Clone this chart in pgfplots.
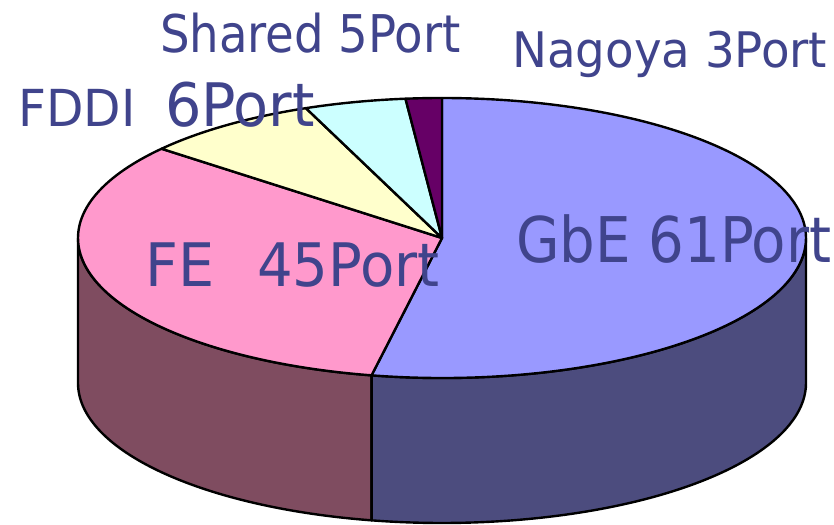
\documentclass[border=0pt]{standalone}
\usepackage{fontspec}
\setmainfont[FakeStretch=1.06]{DejaVu Sans Condensed}
\usepackage{pgfplots}
\pgfplotsset{compat=1.18}
\definecolor{gbetop}{HTML}{9999FF}
\definecolor{gbeside}{HTML}{4C4C7E}
\definecolor{fetop}{HTML}{FF99CC}
\definecolor{feside}{HTML}{7F4C60}
\definecolor{fddi}{HTML}{FFFFCC}
\definecolor{shared}{HTML}{CCFFFF}
\definecolor{nagoya}{HTML}{660066}
\definecolor{txt}{RGB}{64,68,140}
% slice shares (percent of the pie)
\def\vNagoya{1.6}
\def\vShared{4.5}
\def\vFDDI{7.9}
\def\vFE{32.9}
\def\vGbE{53.1}
\pgfmathsetmacro{\aA}{90}
\pgfmathsetmacro{\aB}{\aA+3.6*\vNagoya}
\pgfmathsetmacro{\aC}{\aB+3.6*\vShared}
\pgfmathsetmacro{\aD}{\aC+3.6*\vFDDI}
\pgfmathsetmacro{\aE}{\aD+3.6*\vFE}
\pgfmathsetmacro{\aF}{\aE+3.6*\vGbE}
\begin{document}
\begin{tikzpicture}
\begin{axis}[
  width=834bp, height=525bp, scale only axis,
  xmin=0, xmax=834, ymin=0, ymax=525,
  hide axis, clip=false,
]
\tikzset{pie/.style={draw=black, line width=2.4bp, line join=round},
         ell/.style={x radius=364bp, y radius=140bp}}
% sides
\filldraw[pie, fill=feside] (axis cs:442,287) ++(180:364bp and 140bp)
  arc[start angle=180, end angle=\aE, ell] -- ++(0,-145bp)
  arc[start angle=\aE, end angle=180, ell] -- cycle;
\filldraw[pie, fill=gbeside] (axis cs:442,287) ++(\aE:364bp and 140bp)
  arc[start angle=\aE, end angle=360, ell] -- ++(0,-145bp)
  arc[start angle=360, end angle=\aE, ell] -- cycle;
% tops
\filldraw[pie, fill=gbetop] (axis cs:442,287) -- ++(\aE:364bp and 140bp)
  arc[start angle=\aE, end angle=\aF, ell] -- cycle;
\filldraw[pie, fill=fetop] (axis cs:442,287) -- ++(\aD:364bp and 140bp)
  arc[start angle=\aD, end angle=\aE, ell] -- cycle;
\filldraw[pie, fill=fddi] (axis cs:442,287) -- ++(\aC:364bp and 140bp)
  arc[start angle=\aC, end angle=\aD, ell] -- cycle;
\filldraw[pie, fill=shared] (axis cs:442,287) -- ++(\aB:364bp and 140bp)
  arc[start angle=\aB, end angle=\aC, ell] -- cycle;
\filldraw[pie, fill=nagoya] (axis cs:442,287) -- ++(\aA:364bp and 140bp)
  arc[start angle=\aA, end angle=\aB, ell] -- cycle;
% labels
\tikzset{lab/.style={anchor=base west, inner sep=0pt, text=txt}}
\node[lab] at (axis cs:160,472) {\scalebox{0.94}[1]{\fontsize{52bp}{52bp}\selectfont Shared 5Port}};
\node[lab] at (axis cs:512,457) {\fontsize{49bp}{49bp}\selectfont Nagoya 3Port};
\node[lab] at (axis cs:18,398) {\fontsize{51bp}{51bp}\selectfont FDDI};
\node[lab] at (axis cs:165,398) {\fontsize{60bp}{60bp}\selectfont 6Port};
\node[lab] at (axis cs:516,262) {\scalebox{0.935}[1]{\fontsize{63bp}{63bp}\selectfont GbE 61Port}};
\node[lab] at (axis cs:145,238) {\fontsize{60bp}{60bp}\selectfont FE};
\node[lab] at (axis cs:257,238) {\scalebox{0.98}[1]{\fontsize{60bp}{60bp}\selectfont 45Port}};
\end{axis}
\pgfresetboundingbox
\useasboundingbox (0,0) rectangle (834bp,525bp);
\end{tikzpicture}
\end{document}
